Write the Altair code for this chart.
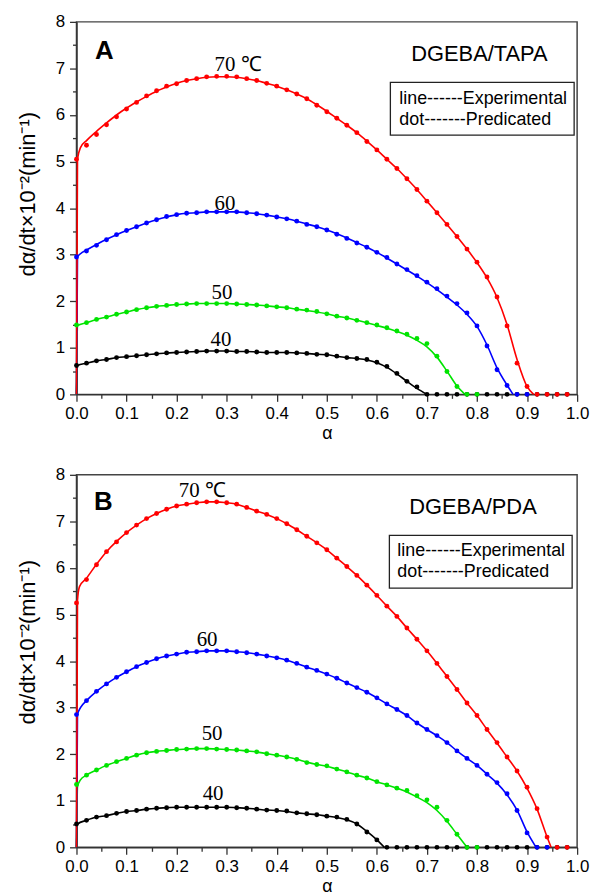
import altair as alt
import pandas as pd

# ---------------- data ----------------
SERIES = ["40", "50", "60", "70"]
COLORS = ["#000000", "#00e400", "#0000ff", "#ff0000"]

# prediction grid of alpha (every 0.02)
GRID = [0.00, 0.02, 0.04, 0.06, 0.08, 0.10, 0.12, 0.14, 0.16, 0.18,
        0.20, 0.22, 0.24, 0.26, 0.28, 0.30, 0.32, 0.34, 0.36, 0.38,
        0.40, 0.42, 0.44, 0.46, 0.48, 0.50, 0.52, 0.54, 0.56, 0.58,
        0.60, 0.62, 0.64, 0.66, 0.68, 0.70, 0.72, 0.74, 0.76, 0.78,
        0.80, 0.82, 0.84, 0.86, 0.88, 0.90, 0.92, 0.94, 0.96, 0.98]

X_TICKS = [0.0, 0.05, 0.1, 0.15, 0.2, 0.25, 0.3, 0.35, 0.4, 0.45, 0.5,
           0.55, 0.6, 0.65, 0.7, 0.75, 0.8, 0.85, 0.9, 0.95, 1.0]
Y_TICKS = [0, 0.5, 1, 1.5, 2, 2.5, 3, 3.5, 4, 4.5, 5, 5.5, 6, 6.5, 7, 7.5, 8]

# ---- Panel A (DGEBA/TAPA): predicted dots ----
A_DOT_40 = [0.62, 0.67, 0.72, 0.75, 0.79, 0.81, 0.83, 0.85, 0.87, 0.89,
            0.90, 0.91, 0.92, 0.93, 0.93, 0.93, 0.92, 0.92, 0.91, 0.90,
            0.90, 0.90, 0.89, 0.88, 0.86, 0.85, 0.82, 0.79, 0.77, 0.75,
            0.69, 0.60, 0.45, 0.28, 0.16, 0, 0, 0, 0, 0,
            0, 0, 0, 0, 0, 0, 0, 0, 0, 0]
A_DOT_50 = [1.49, 1.54, 1.61, 1.66, 1.72, 1.77, 1.82, 1.86, 1.89, 1.91,
            1.93, 1.94, 1.95, 1.95, 1.95, 1.95, 1.94, 1.93, 1.92, 1.90,
            1.88, 1.86, 1.83, 1.81, 1.78, 1.73, 1.68, 1.64, 1.59, 1.54,
            1.49, 1.43, 1.36, 1.29, 1.20, 1.09, 0.82, 0.49, 0.17, 0,
            0]
A_DOT_60 = [2.95, 3.08, 3.20, 3.32, 3.43, 3.52, 3.60, 3.68, 3.75, 3.82,
            3.86, 3.89, 3.90, 3.92, 3.92, 3.92, 3.92, 3.90, 3.88, 3.85,
            3.81, 3.77, 3.72, 3.65, 3.60, 3.53, 3.44, 3.35, 3.25, 3.16,
            3.05, 2.94, 2.80, 2.68, 2.55, 2.41, 2.27, 2.11, 1.95, 1.75,
            1.47, 1.04, 0.53, 0.19, 0, 0]
A_DOT_70 = [5.05, 5.35, 5.58, 5.79, 5.96, 6.13, 6.27, 6.41, 6.52, 6.62,
            6.67, 6.74, 6.78, 6.82, 6.83, 6.83, 6.82, 6.78, 6.74, 6.68,
            6.62, 6.54, 6.45, 6.35, 6.21, 6.07, 5.93, 5.78, 5.62, 5.43,
            5.25, 5.05, 4.85, 4.63, 4.40, 4.15, 3.90, 3.65, 3.39, 3.12,
            2.84, 2.52, 2.09, 1.47, 0.67, 0.17, 0, 0, 0, 0]

# ---- Panel A: experimental lines (start jump, values on grid from 0.02, end where rate hits 0) ----
A_LINE_40_HEAD = ([0.0, 0.002], [0.0, 0.62])
A_LINE_40 = [0.67, 0.72, 0.75, 0.79, 0.81, 0.83, 0.85, 0.87, 0.89,
             0.90, 0.91, 0.92, 0.93, 0.93, 0.93, 0.92, 0.92, 0.91, 0.90,
             0.90, 0.90, 0.89, 0.88, 0.86, 0.85, 0.82, 0.79, 0.77, 0.74,
             0.68, 0.58, 0.44, 0.28, 0.13]
A_LINE_40_END = 0.700
A_LINE_50_HEAD = ([0.0, 0.002], [0.0, 1.48])
A_LINE_50 = [1.54, 1.61, 1.66, 1.72, 1.77, 1.82, 1.86, 1.89, 1.91,
             1.93, 1.94, 1.95, 1.95, 1.95, 1.95, 1.94, 1.93, 1.92, 1.90,
             1.88, 1.86, 1.83, 1.80, 1.77, 1.73, 1.68, 1.64, 1.59, 1.54,
             1.48, 1.42, 1.35, 1.27, 1.16, 1.02, 0.80, 0.50, 0.18]
A_LINE_50_END = 0.776
A_LINE_60_HEAD = ([0.0, 0.002, 0.008], [0.0, 2.95, 3.02])
A_LINE_60 = [3.10, 3.22, 3.33, 3.43, 3.52, 3.60, 3.68, 3.75, 3.81,
             3.86, 3.89, 3.90, 3.92, 3.92, 3.92, 3.92, 3.90, 3.88, 3.85,
             3.81, 3.77, 3.72, 3.66, 3.60, 3.53, 3.45, 3.36, 3.26, 3.16,
             3.05, 2.93, 2.80, 2.67, 2.54, 2.40, 2.25, 2.09, 1.92, 1.72,
             1.46, 1.06, 0.57, 0.20]
A_LINE_60_END = 0.872
A_LINE_70_HEAD = ([0.0, 0.002, 0.008], [0.0, 5.05, 5.30])
A_LINE_70 = [5.45, 5.65, 5.83, 6.00, 6.15, 6.28, 6.40, 6.51, 6.60,
             6.68, 6.74, 6.78, 6.81, 6.82, 6.82, 6.81, 6.78, 6.74, 6.68,
             6.62, 6.54, 6.45, 6.35, 6.22, 6.08, 5.93, 5.78, 5.62, 5.44,
             5.25, 5.05, 4.85, 4.63, 4.40, 4.15, 3.90, 3.65, 3.39, 3.12,
             2.83, 2.50, 2.08, 1.50, 0.75, 0.17]
A_LINE_70_END = 0.913

# ---- Panel B (DGEBA/PDA): predicted dots ----
B_DOT_40 = [0.50, 0.58, 0.65, 0.68, 0.73, 0.77, 0.79, 0.82, 0.84, 0.85,
            0.86, 0.86, 0.86, 0.86, 0.86, 0.86, 0.85, 0.84, 0.82, 0.80,
            0.79, 0.78, 0.74, 0.72, 0.70, 0.67, 0.65, 0.60, 0.50, 0.33,
            0.16, 0, 0, 0, 0, 0, 0, 0, 0, 0,
            0, 0, 0, 0, 0, 0, 0, 0, 0, 0]
B_DOT_50 = [1.35, 1.55, 1.66, 1.76, 1.84, 1.91, 1.98, 2.03, 2.06, 2.08,
            2.10, 2.11, 2.12, 2.12, 2.11, 2.10, 2.09, 2.07, 2.05, 2.01,
            1.98, 1.94, 1.89, 1.82, 1.78, 1.75, 1.68, 1.62, 1.55, 1.49,
            1.41, 1.34, 1.27, 1.22, 1.11, 1.02, 0.86, 0.58, 0.28, 0,
            0]
B_DOT_60 = [2.85, 3.15, 3.35, 3.51, 3.65, 3.77, 3.88, 3.97, 4.05, 4.11,
            4.15, 4.19, 4.20, 4.22, 4.22, 4.22, 4.20, 4.18, 4.15, 4.11,
            4.07, 4.02, 3.95, 3.87, 3.80, 3.72, 3.63, 3.53, 3.43, 3.33,
            3.21, 3.08, 2.96, 2.83, 2.67, 2.53, 2.40, 2.25, 2.07, 1.91,
            1.76, 1.57, 1.39, 1.15, 0.79, 0.31, 0, 0]
B_DOT_70 = [5.25, 5.75, 6.07, 6.35, 6.56, 6.76, 6.92, 7.06, 7.17, 7.26,
            7.33, 7.37, 7.40, 7.42, 7.42, 7.40, 7.37, 7.30, 7.22, 7.15,
            7.06, 6.95, 6.82, 6.68, 6.54, 6.39, 6.21, 6.03, 5.84, 5.63,
            5.41, 5.18, 4.96, 4.71, 4.47, 4.22, 3.95, 3.67, 3.39, 3.10,
            2.83, 2.53, 2.25, 1.94, 1.64, 1.29, 0.83, 0.22, 0, 0]

# ---- Panel B: experimental lines ----
B_LINE_40_HEAD = ([0.0, 0.002], [0.0, 0.50])
B_LINE_40 = [0.58, 0.65, 0.68, 0.73, 0.77, 0.79, 0.82, 0.84, 0.85,
             0.86, 0.86, 0.86, 0.86, 0.86, 0.86, 0.85, 0.84, 0.82, 0.80,
             0.79, 0.77, 0.74, 0.72, 0.70, 0.67, 0.64, 0.59, 0.50, 0.34,
             0.16]
B_LINE_40_END = 0.615
B_LINE_50_HEAD = ([0.0, 0.002, 0.008], [0.0, 1.30, 1.45])
B_LINE_50 = [1.55, 1.66, 1.76, 1.84, 1.91, 1.98, 2.03, 2.06, 2.08,
             2.10, 2.11, 2.12, 2.12, 2.11, 2.10, 2.09, 2.07, 2.05, 2.01,
             1.98, 1.94, 1.89, 1.83, 1.78, 1.74, 1.68, 1.62, 1.55, 1.49,
             1.41, 1.34, 1.27, 1.19, 1.08, 0.96, 0.79, 0.56, 0.28]
B_LINE_50_END = 0.780
B_LINE_60_HEAD = ([0.0, 0.002, 0.008], [0.0, 2.85, 3.00])
B_LINE_60 = [3.15, 3.35, 3.51, 3.65, 3.77, 3.88, 3.97, 4.05, 4.11,
             4.15, 4.19, 4.20, 4.22, 4.22, 4.22, 4.20, 4.18, 4.15, 4.11,
             4.07, 4.02, 3.95, 3.87, 3.80, 3.72, 3.63, 3.53, 3.43, 3.33,
             3.21, 3.08, 2.96, 2.83, 2.67, 2.53, 2.40, 2.25, 2.07, 1.91,
             1.76, 1.57, 1.38, 1.13, 0.80, 0.33]
B_LINE_60_END = 0.918
B_LINE_70_HEAD = ([0.0, 0.002, 0.006], [0.0, 5.30, 5.60])
B_LINE_70 = [5.78, 6.08, 6.35, 6.57, 6.76, 6.92, 7.06, 7.17, 7.26,
             7.33, 7.37, 7.40, 7.42, 7.42, 7.40, 7.37, 7.30, 7.22, 7.15,
             7.06, 6.95, 6.82, 6.68, 6.54, 6.39, 6.21, 6.03, 5.84, 5.63,
             5.41, 5.18, 4.96, 4.71, 4.47, 4.22, 3.95, 3.67, 3.39, 3.10,
             2.83, 2.53, 2.24, 1.94, 1.64, 1.27, 0.82, 0.22]
B_LINE_70_END = 0.948


# ---------------- build tables ----------------
def dots_table(dot_lists):
    rows = []
    for s, vals in zip(SERIES, dot_lists):
        for a, v in zip(GRID, vals):
            rows.append({"a": a, "v": v, "s": s})
    return pd.DataFrame(rows)


def lines_table(specs):
    rows = []
    for s, (head, body, end) in zip(SERIES, specs):
        for a, v in zip(head[0], head[1]):
            rows.append({"a": a, "v": v, "s": s})
        for a, v in zip(GRID[1:], body):
            rows.append({"a": a, "v": v, "s": s})
        rows.append({"a": end, "v": 0.0, "s": s})
    return pd.DataFrame(rows)


dotsA = dots_table([A_DOT_40, A_DOT_50, A_DOT_60, A_DOT_70])
linesA = lines_table([(A_LINE_40_HEAD, A_LINE_40, A_LINE_40_END),
                      (A_LINE_50_HEAD, A_LINE_50, A_LINE_50_END),
                      (A_LINE_60_HEAD, A_LINE_60, A_LINE_60_END),
                      (A_LINE_70_HEAD, A_LINE_70, A_LINE_70_END)])
dotsB = dots_table([B_DOT_40, B_DOT_50, B_DOT_60, B_DOT_70])
linesB = lines_table([(B_LINE_40_HEAD, B_LINE_40, B_LINE_40_END),
                      (B_LINE_50_HEAD, B_LINE_50, B_LINE_50_END),
                      (B_LINE_60_HEAD, B_LINE_60, B_LINE_60_END),
                      (B_LINE_70_HEAD, B_LINE_70, B_LINE_70_END)])

# ---------------- styling ----------------
W, H = 504, 375
SANS = "Liberation Sans"
SERIF = "Liberation Serif"
AX_COLOR = "#333333"

color_scale = alt.Scale(domain=SERIES, range=COLORS)

x_axis = alt.Axis(
    values=X_TICKS, title="α", grid=False,
    labelExpr="round(datum.value*20) % 2 == 0 ? format(datum.value, '.1f') : ''",
    tickSize={"condition": {"test": "round(datum.value*20) % 2 == 0", "value": 7}, "value": 4},
    labelFlush=False, labelOverlap=False, labelPadding=4,
    labelFont=SANS, labelFontSize=17, labelColor="black",
    titleFont=SANS, titleFontSize=18, titleFontWeight="normal", titleColor="black",
    titleY=44, titleBaseline="alphabetic",
    domainColor=AX_COLOR, domainWidth=1.5, tickColor=AX_COLOR, tickWidth=1.3,
)


def y_axis(title_y):
    return alt.Axis(
        values=Y_TICKS, title="dα/dt×10⁻²(min⁻¹)", grid=False,
        labelExpr="datum.value % 1 == 0 ? format(datum.value, 'd') : ''",
        tickSize={"condition": {"test": "datum.value % 1 == 0", "value": 7}, "value": 4},
        labelFlush=False, labelOverlap=False, labelPadding=5,
        labelFont=SANS, labelFontSize=17, labelColor="black",
        titleFont=SANS, titleFontSize=22, titleFontWeight="normal", titleColor="black",
        titleX=-42, titleY=title_y, titleAngle=270, titleBaseline="alphabetic",
        domainColor=AX_COLOR, domainWidth=1.5, tickColor=AX_COLOR, tickWidth=1.3,
    )


def txt(text, x, y, size, font=SANS, weight="normal", align="left"):
    return alt.Chart(alt.Data(values=[{}])).mark_text(
        font=font, fontSize=size, fontWeight=weight, align=align,
        baseline="alphabetic", color="black",
    ).encode(x=alt.value(x), y=alt.value(y), text=alt.value(text))


def panel(dots, lines, ann, title_y):
    xenc = alt.X("a:Q", scale=alt.Scale(domain=[0, 1], nice=False), axis=x_axis)
    yenc = alt.Y("v:Q", scale=alt.Scale(domain=[0, 8], nice=False), axis=y_axis(title_y))
    line = alt.Chart(lines).mark_line(strokeWidth=1.6, interpolate="monotone").encode(
        x=xenc, y=yenc,
        color=alt.Color("s:N", scale=color_scale, legend=None),
        detail="s:N",
    )
    pts = alt.Chart(dots).mark_circle(size=24, opacity=1).encode(
        x=xenc, y=yenc,
        color=alt.Color("s:N", scale=color_scale, legend=None),
    )
    box = alt.Chart(alt.Data(values=[{}])).mark_rect(
        fill="white", fillOpacity=0, stroke="#222222", strokeWidth=1.3
    ).encode(
        x=alt.value(ann["box"][0]), x2=alt.value(ann["box"][1]),
        y=alt.value(ann["box"][2]), y2=alt.value(ann["box"][3]),
    )
    layers = [line, pts, box,
              txt(ann["letter"][0], ann["letter"][1], ann["letter"][2], 26, weight="bold", align="center"),
              txt(ann["name"][0], ann["name"][1], ann["name"][2], 22),
              txt("line------Experimental", ann["leg"][0], ann["leg"][1], 18),
              txt("dot-------Predicated", ann["leg"][0], ann["leg"][2], 18)]
    for lab, lx, ly in ann["labels"]:
        layers.append(txt(lab, lx, ly, 21, font=SERIF))
    return alt.layer(*layers).properties(width=W, height=H)


annA = {
    "letter": ("A", 28, 37),
    "name": ("DGEBA/TAPA", 337, 39),
    "box": (316, 501, 61, 114),
    "leg": (325, 83, 104),
    "labels": [("70  ℃", 139, 49), ("60", 139, 189), ("50", 136, 279), ("40", 135, 326)],
}
annB = {
    "letter": ("B", 27, 35),
    "name": ("DGEBA/PDA", 335, 39),
    "box": (315, 499, 61, 114),
    "leg": (323, 82, 103),
    "labels": [("70  ℃", 103, 22), ("60", 121, 172), ("50", 126, 267), ("40", 127, 327)],
}

chart = alt.vconcat(
    panel(dotsA, linesA, annA, 173),
    panel(dotsB, linesB, annB, 168),
    spacing=22,
).properties(
    padding={"left": 16, "top": 9, "right": 5, "bottom": 0},
    background="white",
).configure_view(
    stroke="#444444", strokeWidth=1.5
)

chart.save("out.html", embed_options={"renderer": "svg", "actions": False})
